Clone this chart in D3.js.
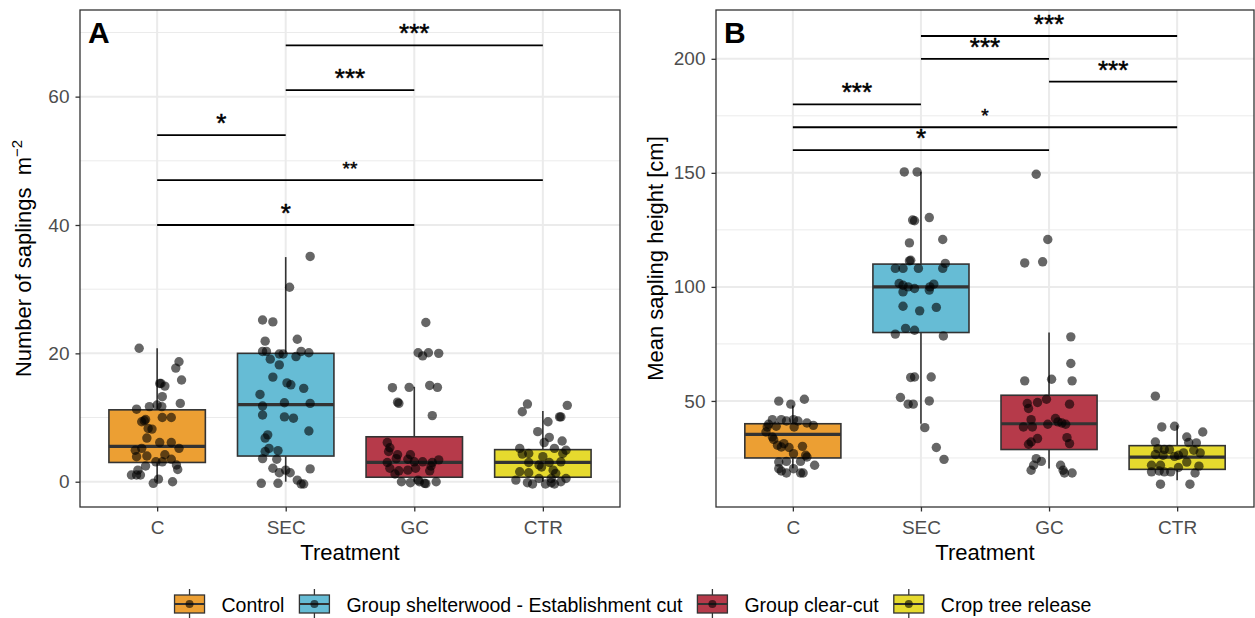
<!DOCTYPE html>
<html>
<head>
<meta charset="utf-8">
<script src="https://cdn.jsdelivr.net/npm/d3@7"></script>
<style>
  body { margin: 0; background: #fff; }
  text { font-family: "Liberation Sans", Arial, sans-serif; }
</style>
</head>
<body>
<div id="chart"></div>
<script>
// categories and legend
const treatments = ['C', 'SEC', 'GC', 'CTR'];
const legendLabels = ['Control', 'Group shelterwood - Establishment cut', 'Group clear-cut', 'Crop tree release'];
const fills = ['#EC9F33', '#66BCD5', '#B63A4A', '#E6DA2E'];

// box stats per treatment: [lower whisker, q1, median, q3, upper whisker]
const boxA = [[0, 3, 5.5, 11.2, 20.8], [0, 4, 12, 20, 35], [0, 0.7, 3, 7, 14.8], [0, 0.7, 3, 5, 11]];
const boxB = [[20.5, 25, 35.3, 40, 48], [40, 80, 100, 110, 150.5], [20.4, 28.7, 40, 52.5, 80], [15.2, 20, 25.4, 30.4, 39.3]];

// jittered points: [jitter offset (in category steps), value]
const ptsA_C = [[-0.14,20.8],[0.17,18.7],[0.145,17.7],[0.19,15.85],[0.02,15.3],[0.03,15.3],[0.06,14.9],[0.04,13.25],[0.18,12.2],[-0.06,11.7],[0,11.95],[0.036,11.7],[-0.16,11.3],[-0.09,9.7],[-0.12,9.35],[-0.1,9.5],[0.04,10],[0.11,10],[-0.04,8.2],[-0.07,8.3],[-0.08,6.8],[0.02,6.1],[0.11,6.1],[-0.17,4.9],[-0.12,5.2],[0.17,5.2],[-0.16,3.9],[-0.08,4.0],[0.06,4.2],[0.11,3.5],[-0.01,3.1],[0.04,3.1],[0.15,2.6],[0.16,1.9],[-0.09,2.45],[-0.15,1.8],[-0.16,1.05],[-0.2,1.05],[-0.13,1.05],[0.01,0.4],[-0.03,-0.25],[0.12,0]];
const ptsA_SEC = [[0.19,35.1],[0.03,30.3],[-0.18,25.2],[-0.1,24.9],[-0.16,21.9],[0.09,22.2],[-0.18,20.3],[-0.15,20.3],[-0.05,19.9],[-0.02,19.9],[0.08,19.5],[0.12,20.3],[0.18,20.1],[-0.12,19.1],[-0.05,18.2],[-0.1,16.3],[0.01,15.4],[0.04,15.1],[0.14,14.55],[-0.2,13.6],[-0.18,11.8],[-0.01,12.3],[0.19,12.2],[-0.18,10.4],[-0.01,10.1],[0.06,9.9],[0.18,7.9],[-0.14,7.3],[-0.16,6.8],[-0.13,5.2],[-0.06,4.85],[-0.16,4.7],[-0.18,3.6],[-0.07,3.5],[-0.1,2.1],[0.19,2.0],[-0.05,1.4],[0.035,1.4],[0,1.8],[0.09,0.25],[-0.19,-0.25],[-0.06,-0.25],[0.12,-0.35],[0.14,-0.35]];
const ptsA_GC = [[0.09,24.8],[0.03,20.1],[0.065,19.6],[0.11,20.1],[0.19,20],[-0.17,14.65],[-0.04,14.7],[0.12,15],[0.18,14.7],[-0.13,12.4],[-0.12,12.2],[0.14,10.3],[-0.21,6.1],[-0.19,5.3],[-0.2,4.7],[-0.13,4.2],[-0.14,3.6],[-0.03,4.2],[-0.05,3.5],[-0.21,3],[0,3.1],[0.065,3.1],[0.14,3],[0.19,3.4],[0.13,2.45],[-0.19,2.1],[-0.12,1.7],[-0.05,1.8],[0.01,2.1],[0.12,1.7],[-0.15,1.2],[-0.1,0],[-0.03,-0.15],[0.04,0],[0.08,-0.25],[0.09,-0.3],[0.17,0],[0.03,0.25]];
const ptsA_CTR = [[-0.12,12.1],[0.19,11.9],[-0.16,10.9],[0.14,10.1],[0.13,10.1],[0.04,9.35],[-0.04,7.8],[0.05,6.9],[0.01,6.1],[0.15,6.35],[-0.18,5.2],[0.09,5.2],[0.18,4.9],[-0.16,4.3],[-0.11,4.4],[0,3.9],[0.155,4.4],[-0.11,3],[-0.03,2.6],[0.05,3],[0.14,3.1],[-0.18,1.55],[-0.11,1.4],[-0.01,2.3],[0.08,1.8],[0.1,1.3],[-0.21,0.25],[-0.12,-0.15],[-0.08,-0.35],[0.02,-0.35],[0.065,-0.15],[0.09,-0.35],[0.14,0],[0.18,0.5],[-0.03,0.5],[0.065,0.5]];

const ptsB_C = [[-0.11,49.9],[-0.016,48.6],[0.09,50.75],[-0.16,41.8],[-0.09,41.8],[-0.05,41.2],[0.005,41.8],[0.04,41.2],[0.11,40.35],[0.16,39.3],[-0.19,39.8],[-0.2,38.6],[-0.13,38.9],[0.01,38.6],[-0.21,36.4],[-0.16,34.2],[-0.15,33.1],[-0.12,30.6],[-0.07,31.3],[-0.09,29.8],[-0.03,29.6],[0.075,30.1],[0.005,26.9],[0.1,26.2],[0.11,25.4],[-0.11,23.2],[-0.05,23.5],[0.06,23.5],[0.17,21.8],[0.005,20.3],[-0.11,20.3],[-0.09,19.3],[-0.05,18.4],[0.06,18.4],[0.08,18.4]];
const ptsB_SEC = [[-0.13,150.4],[-0.03,150.4],[-0.065,129.3],[-0.05,129],[0.065,130.4],[-0.09,119.3],[0.17,120.8],[-0.09,111.4],[-0.08,111.7],[0.19,110.3],[-0.2,108.1],[-0.14,108.1],[-0.02,108.1],[0.17,108.1],[-0.17,101.5],[-0.14,100.7],[-0.1,100],[-0.05,99.3],[-0.14,97.8],[0.07,100],[0.1,101.2],[0.065,98.6],[-0.14,91.5],[-0.01,89.5],[0.12,91],[-0.12,81.8],[-0.05,81],[-0.2,79.3],[0.175,78.5],[-0.08,60.3],[-0.05,60.5],[0.08,60.5],[-0.16,51.5],[-0.1,48.6],[-0.06,48.6],[0.065,50],[0.03,38.3],[0.12,29.6],[0.18,24.4]];
const ptsB_GC = [[-0.1,149.4],[-0.01,120.8],[-0.19,110.5],[-0.05,111],[0.17,78.1],[0.17,66.4],[-0.19,58.8],[0.02,59.5],[0.18,58.8],[-0.02,50.75],[-0.09,49.3],[-0.17,48.9],[-0.16,46.7],[0.16,48.6],[-0.14,41.8],[0.05,42.3],[0.07,40.8],[0.1,40.35],[0.13,39.8],[-0.01,39.8],[-0.2,38.6],[-0.13,38.6],[-0.09,33.5],[0.14,33.9],[-0.16,31],[-0.14,32],[0.16,31.3],[-0.1,24.7],[-0.06,23.5],[-0.12,21.8],[-0.14,19.6],[0.09,21.8],[0.11,19.6],[0.12,18.4],[0.18,18.4]];
const ptsB_CTR = [[-0.17,52.1],[-0.12,38.6],[-0.02,38.9],[0.2,36.4],[0.075,34.2],[0.09,31.75],[0.15,31.6],[-0.17,32],[-0.15,29.1],[-0.1,28.7],[-0.06,28.7],[0.13,28.4],[0.18,27.2],[0.05,27.2],[-0.17,26.5],[-0.11,26.2],[-0.02,25.7],[0.01,26.2],[0.075,23.2],[-0.2,21.8],[-0.13,21.8],[0.01,20.8],[0.17,21.4],[-0.2,18.9],[-0.14,19.3],[-0.1,18.9],[-0.05,18.9],[0.14,18.4],[-0.13,13.5],[0.1,13.5]];

// significance brackets: [from, to, y value, label, small?]
const sigA = [['SEC','CTR',68,'***',0],['SEC','GC',61,'***',0],['C','SEC',54,'*',0],['C','CTR',47,'**',1],['C','GC',40,'*',0]];
const sigB = [['SEC','CTR',210,'***',0],['SEC','GC',200,'***',0],['GC','CTR',190,'***',0],['C','SEC',180,'***',0],['C','CTR',170,'*',1],['C','GC',160,'*',0]];

// axis ticks
const ticksA = [0, 20, 40, 60], minorA = [10, 30, 50, 70];
const ticksB = [50, 100, 150, 200], minorB = [25, 75, 125, 175];

const W = 1255, H = 618;
const svg = d3.select('#chart').append('svg').attr('width', W).attr('height', H);

function panel(c) {
    const x = d3.scalePoint().domain(treatments).range([c.x0, c.x1]).padding(0.6);
    const y = d3.scaleLinear().domain(c.domain).range([c.y1, c.y0]);
    const step = x.step(), bw = step * 0.75;
    const g = svg.append('g');

    // grid
    g.append('rect').attr('x', c.x0).attr('y', c.y0).attr('width', c.x1 - c.x0).attr('height', c.y1 - c.y0).attr('fill', '#fff');
    g.selectAll('.minor').data(c.minor).enter().append('line')
        .attr('x1', c.x0).attr('x2', c.x1).attr('y1', d => y(d)).attr('y2', d => y(d))
        .attr('stroke', '#ebebeb').attr('stroke-width', 1);
    g.selectAll('.major').data(c.ticks).enter().append('line')
        .attr('x1', c.x0).attr('x2', c.x1).attr('y1', d => y(d)).attr('y2', d => y(d))
        .attr('stroke', '#ebebeb').attr('stroke-width', 2);
    g.selectAll('.vgrid').data(treatments).enter().append('line')
        .attr('x1', d => x(d)).attr('x2', d => x(d)).attr('y1', c.y0).attr('y2', c.y1)
        .attr('stroke', '#ebebeb').attr('stroke-width', 2);

    // boxes
    const bx = g.selectAll('.box').data(c.boxes).enter().append('g');
    bx.append('line')
        .attr('x1', (d, i) => x(treatments[i])).attr('x2', (d, i) => x(treatments[i]))
        .attr('y1', d => y(d[0])).attr('y2', d => y(d[4]))
        .attr('stroke', '#333').attr('stroke-width', 1.6);
    bx.append('rect')
        .attr('x', (d, i) => x(treatments[i]) - bw / 2).attr('width', bw)
        .attr('y', d => y(d[3])).attr('height', d => y(d[1]) - y(d[3]))
        .attr('fill', (d, i) => fills[i]).attr('stroke', '#333').attr('stroke-width', 1.6);
    bx.append('line')
        .attr('x1', (d, i) => x(treatments[i]) - bw / 2).attr('x2', (d, i) => x(treatments[i]) + bw / 2)
        .attr('y1', d => y(d[2])).attr('y2', d => y(d[2]))
        .attr('stroke', '#333').attr('stroke-width', 3.2);

    // points
    c.points.forEach((pts, i) => {
        g.selectAll(null).data(pts).enter().append('circle')
            .attr('cx', d => x(treatments[i]) + d[0] * step)
            .attr('cy', d => y(d[1]))
            .attr('r', 4.7)
            .attr('fill', '#000').attr('fill-opacity', 0.6);
    });

    // significance brackets
    c.sig.forEach(s => {
        g.append('line').attr('x1', x(s[0])).attr('x2', x(s[1]))
            .attr('y1', y(s[2])).attr('y2', y(s[2]))
            .attr('stroke', '#000').attr('stroke-width', 1.8);
        g.append('text').attr('x', (x(s[0]) + x(s[1])) / 2)
            .attr('y', y(s[2]) - (s[4] ? 5 : 3))
            .attr('text-anchor', 'middle')
            .attr('font-size', s[4] ? 19 : 26)
            .attr('stroke', '#000').attr('stroke-width', 0.5)
            .text(s[3]);
    });

    // border
    g.append('rect').attr('x', c.x0).attr('y', c.y0).attr('width', c.x1 - c.x0).attr('height', c.y1 - c.y0)
        .attr('fill', 'none').attr('stroke', '#333').attr('stroke-width', 1.3);

    // axes
    const ya = g.append('g').attr('transform', `translate(${c.x0},0)`)
        .call(d3.axisLeft(y).tickValues(c.ticks).tickSize(4.5).tickPadding(6));
    const xa = g.append('g').attr('transform', `translate(0,${c.y1})`)
        .call(d3.axisBottom(x).tickSize(4.5).tickPadding(9));
    [ya, xa].forEach(a => {
        a.select('.domain').remove();
        a.selectAll('.tick line').attr('stroke', '#333').attr('stroke-width', 1.3);
        a.selectAll('.tick text').attr('fill', '#4d4d4d').attr('font-size', 19)
            .attr('font-family', '"Liberation Sans", Arial, sans-serif');
    });

    // titles
    svg.append('text').attr('x', (c.x0 + c.x1) / 2).attr('y', 560)
        .attr('text-anchor', 'middle').attr('font-size', 22).text('Treatment');
    const yt = svg.append('text')
        .attr('transform', `translate(${c.ylabX},${(c.y0 + c.y1) / 2}) rotate(-90)`)
        .attr('text-anchor', 'middle').attr('font-size', 22)
        .attr('xml:space', 'preserve');
    c.ylabel(yt);
    svg.append('text').attr('x', c.x0 + 8).attr('y', 43)
        .attr('font-size', 30).attr('font-weight', 'bold').text(c.letter);
}

panel({
    x0: 80, x1: 620, y0: 10, y1: 507, domain: [-3.94, 73.5],
    ticks: ticksA, minor: minorA, boxes: boxA,
    points: [ptsA_C, ptsA_SEC, ptsA_GC, ptsA_CTR], sig: sigA, letter: 'A', ylabX: 31,
    ylabel: t => {
        t.append('tspan').text('Number of saplings\u00a0\u00a0m');
        t.append('tspan').attr('dy', -9).attr('font-size', 15).text('\u22122');
    }
});
panel({
    x0: 716, x1: 1254, y0: 10, y1: 507, domain: [3.5, 221.4],
    ticks: ticksB, minor: minorB, boxes: boxB,
    points: [ptsB_C, ptsB_SEC, ptsB_GC, ptsB_CTR], sig: sigB, letter: 'B', ylabX: 663,
    ylabel: t => t.text('Mean sapling height [cm]')
});

// legend
const leg = svg.append('g');
const keyW = 30, gapText = 17, gapItem = 15;
const items = legendLabels.map((l, i) => {
    const tmp = leg.append('text').attr('font-size', 19.5).text(l);
    const w = tmp.node().getComputedTextLength();
    tmp.remove();
    return { l, i, w };
});
const total = d3.sum(items, d => keyW + gapText + d.w) + gapItem * (items.length - 1);
let lx = 633 - total / 2;
items.forEach(d => {
    const k = leg.append('g').attr('transform', `translate(${lx},0)`);
    k.append('line').attr('x1', keyW / 2).attr('x2', keyW / 2).attr('y1', 589).attr('y2', 619)
        .attr('stroke', '#333').attr('stroke-width', 1.3);
    k.append('rect').attr('x', 0).attr('y', 595).attr('width', keyW).attr('height', 18)
        .attr('fill', fills[d.i]).attr('stroke', '#333').attr('stroke-width', 1.3);
    k.append('line').attr('x1', 0).attr('x2', keyW).attr('y1', 604).attr('y2', 604)
        .attr('stroke', '#333').attr('stroke-width', 2);
    k.append('circle').attr('cx', keyW / 2).attr('cy', 604).attr('r', 4).attr('fill', '#000').attr('fill-opacity', 0.6);
    k.append('text').attr('x', keyW + gapText).attr('y', 612).attr('font-size', 19.5).text(d.l);
    lx += keyW + gapText + d.w + gapItem;
});
</script>
</body>
</html>
